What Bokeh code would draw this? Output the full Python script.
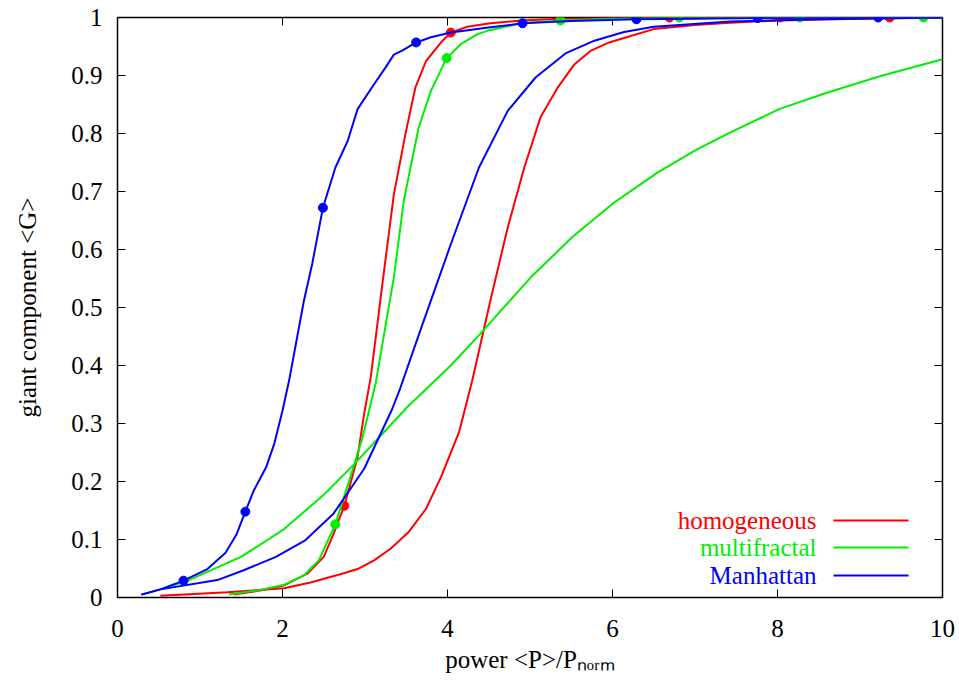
import math
from bokeh.plotting import figure
from bokeh.models import Range1d, FixedTicker, Label, Arrow
from bokeh.embed import file_html
from bokeh.resources import INLINE

# ---------------- data ----------------
hom_steep_x = [1.41, 1.73, 2.02, 2.30, 2.50, 2.62, 2.70, 2.75, 2.91, 2.99, 3.07, 3.21, 3.35, 3.49, 3.61,
               3.74, 3.94, 4.04, 4.24, 4.52, 4.90, 5.36, 6.0, 6.69, 8.03, 9.36, 10.0]
hom_steep_y = [0.005, 0.012, 0.021, 0.041, 0.070, 0.110, 0.140, 0.158, 0.242, 0.317, 0.380, 0.540, 0.695, 0.799, 0.879,
               0.925, 0.960, 0.974, 0.984, 0.990, 0.995, 0.998, 0.999, 1.0, 1.0, 1.0, 1.0]
hom_dots_x = [2.75, 4.04, 5.36, 6.69, 8.03, 9.36]
hom_dots_y = [0.158, 0.974, 0.998, 1.0, 1.0, 1.0]

hom_wide_x = [0.52, 1.33, 2.02, 2.34, 2.70, 2.91, 3.11, 3.31, 3.53, 3.74, 3.92, 4.14, 4.30, 4.52,
              4.73, 4.93, 5.13, 5.34, 5.53, 5.74, 5.96, 6.22, 6.50, 7.0, 7.43, 8.0, 9.0, 10.0]
hom_wide_y = [0.003, 0.009, 0.016, 0.026, 0.040, 0.049, 0.064, 0.084, 0.113, 0.153, 0.207, 0.285, 0.374, 0.512,
              0.638, 0.741, 0.829, 0.880, 0.918, 0.943, 0.957, 0.968, 0.980, 0.987, 0.991, 0.995, 0.998, 1.0]

mf_steep_x = [1.35, 1.73, 2.02, 2.26, 2.44, 2.64, 2.81, 2.97, 3.13, 3.35, 3.47, 3.65, 3.80, 3.99,
              4.16, 4.36, 4.48, 4.89, 5.37, 6.0, 6.81, 8.27, 9.77, 10.0]
mf_steep_y = [0.005, 0.013, 0.022, 0.038, 0.064, 0.126, 0.202, 0.276, 0.370, 0.552, 0.684, 0.810, 0.874, 0.930,
              0.954, 0.971, 0.977, 0.990, 0.995, 0.998, 1.0, 1.0, 1.0, 1.0]
mf_dots_x = [2.64, 3.99, 5.37, 6.81, 8.27, 9.77]
mf_dots_y = [0.126, 0.930, 0.995, 1.0, 1.0, 1.0]

mf_wide_x = [0.55, 0.85, 1.51, 2.02, 2.50, 2.87, 3.51, 4.04, 4.40, 4.65, 5.01, 5.51, 6.02,
             6.55, 7.03, 7.43, 8.02, 8.57, 9.25, 10.0]
mf_wide_y = [0.015, 0.029, 0.071, 0.118, 0.177, 0.230, 0.328, 0.400, 0.455, 0.495, 0.552, 0.621, 0.681,
             0.733, 0.773, 0.802, 0.842, 0.869, 0.899, 0.928]

man_steep_x = [0.29, 0.52, 0.80, 1.09, 1.31, 1.44, 1.55, 1.65, 1.80, 1.90, 2.00, 2.08, 2.26, 2.36, 2.49,
               2.64, 2.79, 2.91, 3.11, 3.25, 3.35, 3.45, 3.62, 3.80, 4.04, 4.52, 4.91, 5.5, 6.29, 7.0,
               7.76, 9.22, 10.0]
man_steep_y = [0.005, 0.014, 0.029, 0.049, 0.077, 0.108, 0.148, 0.184, 0.224, 0.265, 0.322, 0.374, 0.512, 0.575, 0.672,
               0.741, 0.787, 0.842, 0.885, 0.914, 0.936, 0.943, 0.957, 0.966, 0.974, 0.983, 0.990, 0.994, 0.997, 0.998,
               0.999, 1.0, 1.0]
man_dots_x = [0.80, 1.55, 2.49, 3.62, 4.91, 6.29, 7.76, 9.22]
man_dots_y = [0.029, 0.148, 0.672, 0.957, 0.990, 0.997, 0.999, 1.0]

man_wide_x = [0.29, 0.52, 1.21, 1.53, 1.92, 2.27, 2.62, 2.99, 3.33, 3.43, 3.67, 4.04, 4.38, 4.73,
              5.07, 5.43, 5.78, 6.14, 6.50, 7.43, 8.5, 10.0]
man_wide_y = [0.005, 0.014, 0.030, 0.047, 0.070, 0.098, 0.145, 0.222, 0.325, 0.362, 0.460, 0.609, 0.741, 0.839,
              0.897, 0.938, 0.960, 0.975, 0.984, 0.993, 0.997, 1.0]

series_names = ["homogeneous", "multifractal", "Manhattan"]
series_colors = ["#ff0000", "#00ee00", "#0000ff"]

x_ticks = [0, 2, 4, 6, 8, 10]
x_tick_labels = ["0", "2", "4", "6", "8", "10"]
y_ticks = [0, 0.1, 0.2, 0.3, 0.4, 0.5, 0.6, 0.7, 0.8, 0.9, 1]
y_tick_labels = ["0", "0.1", "0.2", "0.3", "0.4", "0.5", "0.6", "0.7", "0.8", "0.9", "1"]

x_label = "power <P>/P\u2099\u2092\u1d63\u2098"
y_label = "giant component <G>"

X_MIN, X_MAX = 0, 10
Y_MIN, Y_MAX = 0, 1

FONT = "Liberation Serif"
FS = "25px"

# ---------------- figure ----------------
p = figure(width=959, height=686, output_backend="svg", toolbar_location=None,
           x_range=Range1d(X_MIN, X_MAX), y_range=Range1d(Y_MIN, Y_MAX),
           min_border_left=117, min_border_right=17, min_border_top=17, min_border_bottom=89)
p.background_fill_color = "white"
p.border_fill_color = "white"
p.grid.visible = False
p.outline_line_color = "black"
p.outline_line_width = 1.5

p.xaxis.ticker = FixedTicker(ticks=x_ticks)
p.yaxis.ticker = FixedTicker(ticks=y_ticks)
p.xaxis.major_label_overrides = {t: l for t, l in zip(x_ticks, x_tick_labels)}
p.yaxis.major_label_overrides = {t: l for t, l in zip(y_ticks, y_tick_labels)}
for ax in (p.xaxis, p.yaxis):
    ax.axis_line_color = None
    ax.major_tick_in = 8
    ax.major_tick_out = 0
    ax.minor_tick_in = 0
    ax.minor_tick_out = 0
    ax.major_tick_line_color = "black"
    ax.major_tick_line_width = 1
    ax.major_label_text_font = FONT
    ax.major_label_text_font_size = FS
    ax.major_label_text_color = "black"
    ax.axis_label_text_font = FONT
    ax.axis_label_text_font_size = FS
    ax.axis_label_text_font_style = "normal"
    ax.axis_label_text_color = "black"
p.xaxis.major_label_standoff = 22
p.yaxis.major_label_standoff = 15
p.xaxis.axis_label = x_label
p.xaxis.axis_label_standoff = 6
p.yaxis.axis_label = y_label
p.yaxis.axis_label_standoff = 27

# mirrored ticks on top and right (gnuplot border ticks), clipped by the frame
p.scatter(x_ticks, [Y_MAX] * len(x_ticks), marker="dash", size=16, angle=math.pi / 2,
          line_color="black", line_width=1)
p.scatter([X_MAX] * len(y_ticks), y_ticks, marker="dash", size=16,
          line_color="black", line_width=1)

# ---------------- curves ----------------
LW = 2
DOT = 9
curves = [
    (hom_steep_x, hom_steep_y, hom_dots_x, hom_dots_y, hom_wide_x, hom_wide_y, series_colors[0]),
    (mf_steep_x, mf_steep_y, mf_dots_x, mf_dots_y, mf_wide_x, mf_wide_y, series_colors[1]),
    (man_steep_x, man_steep_y, man_dots_x, man_dots_y, man_wide_x, man_wide_y, series_colors[2]),
]
for sx, sy, dx, dy, wx, wy, col in curves:
    p.line(sx, sy, line_color=col, line_width=LW)
    p.scatter(dx, dy, size=DOT, fill_color=col, line_color=col, marker="circle")
    p.line(wx, wy, line_color=col, line_width=LW)

# ---------------- legend (gnuplot style: text, then sample) ----------------
row_y = [77, 50, 22]
for name, col, ry in zip(series_names, series_colors, row_y):
    p.add_layout(Label(x=699, y=ry, x_units="screen", y_units="screen", text=name,
                       text_font=FONT, text_font_size=FS, text_color=col,
                       text_align="right", text_baseline="middle"))
    p.add_layout(Arrow(end=None, x_start=716, y_start=ry, x_end=791, y_end=ry,
                       start_units="screen", end_units="screen",
                       line_color=col, line_width=LW))

open("out.html", "w").write(file_html(p, INLINE))
